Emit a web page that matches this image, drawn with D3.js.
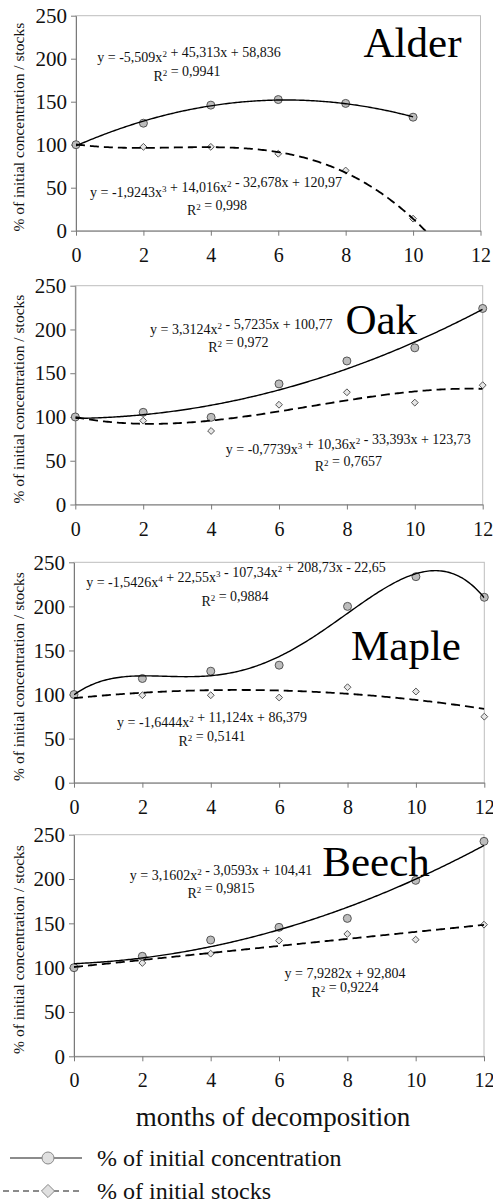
<!DOCTYPE html>
<html>
<head>
<meta charset="utf-8">
<script src="https://cdn.jsdelivr.net/npm/d3@7"></script>
<style>
  body { margin: 0; background: #fff; }
  svg, svg text { font-family: "Liberation Serif", "Times New Roman", "DejaVu Serif", serif; }
</style>
</head>
<body>
<div id="chart"></div>
<script>
// months on x axis
const months = [0, 2, 4, 6, 8, 10, 12];
const species = ["Alder", "Oak", "Maple", "Beech"];
const xTicks = [0, 2, 4, 6, 8, 10, 12];
const yTicks = [0, 50, 100, 150, 200, 250];

// % of initial concentration (circles) / % of initial stocks (diamonds)
const alderConc = [100, 125, 146, 152.5, 148, 132];
const alderStocks = [100, 97.5, 97.5, 89.5, 70, 14];
const oakConc = [100, 105.3, 99.6, 137.8, 164, 179, 224];
const oakStocks = [100, 95.8, 84, 114, 128.2, 116.4, 136.3];
const mapleConc = [100, 118.2, 126.5, 133.3, 200, 233.7, 210.3];
const mapleStocks = [100, 99.2, 99.2, 96.6, 108.3, 103.4, 74.9];
const beechConc = [100, 112.8, 131.2, 145.5, 155.6, 198.5, 242.5];
const beechStocks = [100, 105.3, 115.8, 130.5, 138, 131.6, 148.5];

// trendline coefficients as printed (highest power first, x = point number 1..7)
const alderConcFit = [-5.509, 45.313, 58.836];
const alderStocksFit = [-1.9243, 14.016, -32.678, 120.97];
const oakConcFit = [3.3124, -5.7235, 100.77];
const oakStocksFit = [-0.7739, 10.36, -33.393, 123.73];
const mapleConcFit = [-1.5426, 22.55, -107.34, 208.73, -22.65];
const mapleStocksFit = [-1.6444, 11.124, 86.379];
const beechConcFit = [3.1602, -3.0593, 104.41];
const beechStocksFit = [7.9282, 92.804];

// equation labels
const alderEq = ["y = -5,509x^2 + 45,313x + 58,836", "R^2 = 0,9941", "y = -1,9243x^3 + 14,016x^2 - 32,678x + 120,97", "R^2 = 0,998"];
const oakEq = ["y = 3,3124x^2 - 5,7235x + 100,77", "R^2 = 0,972", "y = -0,7739x^3 + 10,36x^2 - 33,393x + 123,73", "R^2 = 0,7657"];
const mapleEq = ["y = -1,5426x^4 + 22,55x^3 - 107,34x^2 + 208,73x - 22,65", "R^2 = 0,9884", "y = -1,6444x^2 + 11,124x + 86,379", "R^2 = 0,5141"];
const beechEq = ["y = 3,1602x^2 - 3,0593x + 104,41", "R^2 = 0,9815", "y = 7,9282x + 92,804", "R^2 = 0,9224"];

const xTitle = "months of decomposition";
const yTitle = "% of initial concentration / stocks";
const legendLabels = ["% of initial concentration", "% of initial stocks"];

const panelData = [
  { conc: alderConc, stocks: alderStocks, cFit: alderConcFit, sFit: alderStocksFit, eq: alderEq, cEnd: 10, sEnd: 10.6 },
  { conc: oakConc, stocks: oakStocks, cFit: oakConcFit, sFit: oakStocksFit, eq: oakEq, cEnd: 12, sEnd: 12 },
  { conc: mapleConc, stocks: mapleStocks, cFit: mapleConcFit, sFit: mapleStocksFit, eq: mapleEq, cEnd: 12, sEnd: 12 },
  { conc: beechConc, stocks: beechStocks, cFit: beechConcFit, sFit: beechStocksFit, eq: beechEq, cEnd: 12, sEnd: 12 }
];

// layout (pixels)
const W = 493, H = 1204;
const FONT = '"Liberation Serif", "Times New Roman", "DejaVu Serif", serif';
const boxes = [
  { l: 76, r: 480.5, t: 15.7, b: 230.7 },
  { l: 75.3, r: 482.7, t: 285.7, b: 504.5 },
  { l: 74, r: 484.3, t: 562.3, b: 782.7 },
  { l: 74, r: 484, t: 834.7, b: 1056.3 }
];
// label offsets relative to plot top-left: eq1, r1, eq2, r2, name
const labelPos = [
  [[113, 46.3], [111, 65.3], [140, 181.3], [141, 199.3], [336.5, 41.3]],
  [[166, 48.3], [163, 66.3], [273, 167.8], [273, 185.3], [306, 48.3]],
  [[162, 24.7], [161, 43.7], [138, 164.7], [138, 183.7], [332, 97.7]],
  [[147, 45.3], [147, 63.3], [271, 143.3], [271, 161.8], [302, 41.3]]
];

const poly = (c, t) => c.reduce((acc, k) => acc * t + k, 0);

const svg = d3.select('#chart').append('svg')
  .attr('width', W)
  .attr('height', H)
  .attr('font-family', FONT);

// superscripts in equation strings
function eqText(sel, str) {
  const parts = str.split(/\^(\d)/);
  parts.forEach((p, i) => {
    if (i % 2 === 0) {
      if (p) sel.append('tspan').text(p);
    } else {
      sel.append('tspan').attr('dy', -5).attr('font-size', 9).text(p);
      sel.append('tspan').attr('dy', 5).text('');
    }
  });
}

const diamond = d3.symbol().type(d3.symbolDiamond2);

panelData.forEach((pd, pi) => {
  const b = boxes[pi];
  const x = d3.scaleLinear().domain([0, 12]).range([b.l, b.r]);
  const y = d3.scaleLinear().domain([0, 250]).range([b.b, b.t]);
  const g = svg.append('g');

  // frame
  g.append('rect')
    .attr('x', b.l).attr('y', b.t)
    .attr('width', b.r - b.l).attr('height', b.b - b.t)
    .attr('fill', 'none').attr('stroke', '#bdbdbd').attr('stroke-width', 1);

  // axes
  const yAxis = g.append('g')
    .attr('transform', `translate(${b.l},0)`)
    .call(d3.axisLeft(y).tickValues(yTicks).tickSize(5).tickPadding(4).tickSizeOuter(0));
  const xAxis = g.append('g')
    .attr('transform', `translate(0,${b.b})`)
    .call(d3.axisBottom(x).tickValues(xTicks).tickSize(5).tickPadding(12).tickSizeOuter(0));
  [xAxis, yAxis].forEach(a => {
    a.attr('font-family', FONT);
    a.selectAll('path, line').attr('stroke', '#7a7a7a');
    a.selectAll('text').attr('font-size', 20).attr('fill', '#111');
  });
  yAxis.selectAll('text').attr('font-size', 21);

  // y title
  g.append('text')
    .attr('transform', `translate(24,${(b.t + b.b) / 2 + 4}) rotate(-90)`)
    .attr('text-anchor', 'middle')
    .attr('font-size', 15.5)
    .attr('fill', '#111')
    .text(yTitle);

  // clip for trendlines
  const clipId = 'clip' + pi;
  g.append('clipPath').attr('id', clipId)
    .append('rect')
    .attr('x', b.l).attr('y', b.t)
    .attr('width', b.r - b.l).attr('height', b.b - b.t);

  const line = d3.line().x(d => x(d[0])).y(d => y(d[1]));
  const fitPts = (coef, end) => d3.range(0, end + 0.001, 0.05)
    .map(m => [m, poly(coef, m / 2 + 1)]);

  // markers
  g.selectAll('path.stock')
    .data(pd.stocks)
    .join('path')
    .attr('class', 'stock')
    .attr('d', diamond.size(30))
    .attr('transform', (d, i) => `translate(${x(months[i])},${y(d)})`)
    .attr('fill', '#e6e6e6')
    .attr('stroke', '#555')
    .attr('stroke-width', 1);
  g.selectAll('circle.conc')
    .data(pd.conc)
    .join('circle')
    .attr('class', 'conc')
    .attr('cx', (d, i) => x(months[i]))
    .attr('cy', d => y(d))
    .attr('r', 4)
    .attr('fill', '#bdbdbd')
    .attr('stroke', '#555')
    .attr('stroke-width', 1);

  // trendlines
  g.append('path')
    .attr('clip-path', `url(#${clipId})`)
    .attr('d', line(fitPts(pd.cFit, pd.cEnd)))
    .attr('fill', 'none')
    .attr('stroke', '#000')
    .attr('stroke-width', 1.4);
  g.append('path')
    .attr('clip-path', `url(#${clipId})`)
    .attr('d', line(fitPts(pd.sFit, pd.sEnd)))
    .attr('fill', 'none')
    .attr('stroke', '#000')
    .attr('stroke-width', 1.8)
    .attr('stroke-dasharray', '9,5');

  // equations
  const lp = labelPos[pi];
  pd.eq.forEach((s, k) => {
    const t = g.append('text')
      .attr('x', b.l + lp[k][0])
      .attr('y', b.t + lp[k][1])
      .attr('text-anchor', 'middle')
      .attr('font-size', 14)
      .attr('fill', '#111');
    eqText(t, s);
  });

  // species name
  g.append('text')
    .attr('x', b.l + lp[4][0])
    .attr('y', b.t + lp[4][1])
    .attr('text-anchor', 'middle')
    .attr('font-size', 43)
    .attr('fill', '#000')
    .text(species[pi]);
});

// x title
svg.append('text')
  .attr('x', 273)
  .attr('y', 1126)
  .attr('text-anchor', 'middle')
  .attr('font-size', 27)
  .attr('fill', '#111')
  .text(xTitle);

// legend
const leg = svg.append('g');
leg.append('line')
  .attr('x1', 10).attr('x2', 82).attr('y1', 1158).attr('y2', 1158)
  .attr('stroke', '#666').attr('stroke-width', 1.5);
leg.append('circle')
  .attr('cx', 48).attr('cy', 1158).attr('r', 6)
  .attr('fill', '#e0e0e0').attr('stroke', '#888').attr('stroke-width', 1);
leg.append('line')
  .attr('x1', 3).attr('x2', 80).attr('y1', 1191).attr('y2', 1191)
  .attr('stroke', '#666').attr('stroke-width', 1.5)
  .attr('stroke-dasharray', '6,4');
leg.append('path')
  .attr('d', d3.symbol().type(d3.symbolDiamond2).size(110))
  .attr('transform', 'translate(48,1191)')
  .attr('fill', '#e0e0e0').attr('stroke', '#888').attr('stroke-width', 1);
legendLabels.forEach((s, i) => {
  leg.append('text')
    .attr('x', 97)
    .attr('y', 1166 + i * 33)
    .attr('font-size', 24)
    .attr('fill', '#111')
    .text(s);
});
</script>
</body>
</html>
